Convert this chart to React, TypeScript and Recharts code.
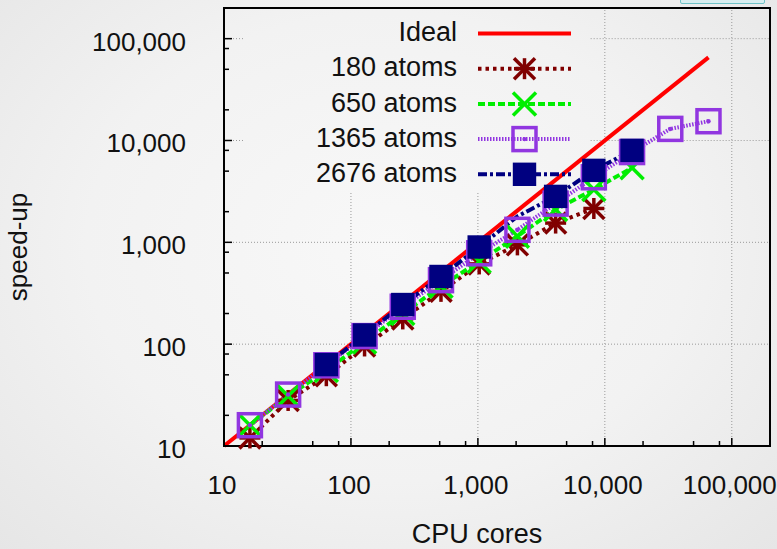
import * as R from 'recharts';
import { LineChart, Line, XAxis, YAxis, ReferenceLine, Legend } from 'recharts';

// CPU cores (x) and measured speed-up per system size (y)
const cores = [16, 32, 64, 128, 256, 512, 1024, 2048, 4096, 8192, 16384, 32768, 65536];
const idealX = [10, 65536];
const speedup180 = [12, 28, 49, 96, 177, 330, 614, 944, 1546, 2150];
const speedup650 = [16, 31, 55, 105, 200, 370, 650, 1150, 2100, 3300, 5400];
const speedup1365 = [16, 32, 62, 120, 233, 425, 780, 1327, 2400, 4350, 7700, 13000, 15460];
// 2676 atoms starts at 64 cores; the 2048 point has no marker in the figure
const cores2676 = [64, 128, 256, 512, 1024, 2048, 4096, 8192, 16384];
const speedup2676 = [63, 123, 245, 462, 900, 1800, 2825, 5090, 8000];
const noMarker2676 = [2048];

const majorTicks = [10, 100, 1000, 10000, 100000];
const minorTicks = [20, 50, 80, 200, 500, 800, 2000, 5000, 8000, 20000, 50000, 80000];
const allTicks = [...majorTicks, ...minorTicks].sort((a, b) => a - b);
const domain: [number, number] = [10, 200000];

// grid lines, gnuplot leaves them out behind the key
const gridValues = [100, 1000, 10000, 100000];
const keyLeft = 14.5;
const keyRight = 7730;
const keyBottom = 3140;

const FONT = '"Liberation Sans", Arial, sans-serif';

const toPoints = (xs: number[], ys: number[], hidden: number[] = []) =>
  ys.map((y, i) => ({ x: xs[i], y, hideDot: hidden.includes(xs[i]) }));

const idealData = idealX.map(v => ({ x: v, y: v }));
const data180 = toPoints(cores, speedup180);
const data650 = toPoints(cores, speedup650);
const data1365 = toPoints(cores, speedup1365);
const data2676 = toPoints(cores2676, speedup2676, noMarker2676);

type MarkerKind = 'none' | 'star' | 'cross' | 'openSquare' | 'square';

const SERIES = [
  { name: 'Ideal', color: '#ff0000', dash: undefined, marker: 'none' as MarkerKind, data: idealData },
  { name: '180 atoms', color: '#800000', dash: '3.5 4', marker: 'star' as MarkerKind, data: data180 },
  { name: '650 atoms', color: '#00ee00', dash: '7 3', marker: 'cross' as MarkerKind, data: data650 },
  { name: '1365 atoms', color: '#9136e0', dash: '1.5 1.5', marker: 'openSquare' as MarkerKind, data: data1365 },
  { name: '2676 atoms', color: '#000080', dash: '9 3 3 3', marker: 'square' as MarkerKind, data: data2676 },
];

const Marker = ({ kind, cx, cy, color }: { kind: MarkerKind; cx: number; cy: number; color: string }) => {
  if (kind === 'star') {
    const h = 10.5;
    return (
      <g stroke={color} strokeWidth={3.5}>
        <line x1={cx - h} y1={cy} x2={cx + h} y2={cy} />
        <line x1={cx} y1={cy - h} x2={cx} y2={cy + h} />
        <line x1={cx - h} y1={cy - h} x2={cx + h} y2={cy + h} />
        <line x1={cx - h} y1={cy + h} x2={cx + h} y2={cy - h} />
      </g>
    );
  }
  if (kind === 'cross') {
    const h = 11.5;
    return (
      <g stroke={color} strokeWidth={3.5}>
        <line x1={cx - h} y1={cy - h} x2={cx + h} y2={cy + h} />
        <line x1={cx - h} y1={cy + h} x2={cx + h} y2={cy - h} />
      </g>
    );
  }
  if (kind === 'openSquare') {
    const h = 11.5;
    return (
      <g>
        <rect x={cx - h} y={cy - h} width={2 * h} height={2 * h} fill="none" stroke={color} strokeWidth={3.5} />
        <circle cx={cx} cy={cy} r={2.2} fill={color} />
      </g>
    );
  }
  if (kind === 'square') {
    const h = 11.7;
    return <rect x={cx - h} y={cy - h} width={2 * h} height={2 * h} fill={color} />;
  }
  return null;
};

const makeDot = (kind: MarkerKind, color: string) => (props: any) => {
  const { cx, cy, index, payload } = props;
  if (kind === 'none' || payload?.hideDot || cx == null || cy == null) return <g key={`d-${index}`} />;
  return (
    <g key={`d-${index}`}>
      <Marker kind={kind} cx={cx} cy={cy} color={color} />
    </g>
  );
};

const fmt = (v: number) => v.toLocaleString('en-US');
const isMajor = (v: number) => majorTicks.includes(v);

const BottomTick = ({ x, y, payload }: any) => (
  <g>
    <line x1={x} y1={y} x2={x} y2={y - (isMajor(payload.value) ? 8 : 5)} stroke="#000" strokeWidth={1.5} />
    {isMajor(payload.value) && (
      <text x={x - 2} y={y + 48} textAnchor="middle" fontSize={26} fontFamily={FONT} fill="#111">
        {fmt(payload.value)}
      </text>
    )}
  </g>
);

const TopTick = ({ x, y, payload }: any) => (
  <line x1={x} y1={y} x2={x} y2={y + (isMajor(payload.value) ? 8 : 5)} stroke="#000" strokeWidth={1.5} />
);

const LeftTick = ({ x, y, payload }: any) => (
  <g>
    <line x1={x} y1={y} x2={x + (isMajor(payload.value) ? 8 : 5)} y2={y} stroke="#000" strokeWidth={1.5} />
    {isMajor(payload.value) && (
      <text x={x - 38} y={y + 12} textAnchor="end" fontSize={26} fontFamily={FONT} fill="#111">
        {fmt(payload.value)}
      </text>
    )}
  </g>
);

const RightTick = ({ x, y, payload }: any) => (
  <line x1={x} y1={y} x2={x - (isMajor(payload.value) ? 8 : 5)} y2={y} stroke="#000" strokeWidth={1.5} />
);

const XLabel = ({ viewBox }: any) => (
  <text x={viewBox.x + viewBox.width / 2 - 20} y={viewBox.y + 97} textAnchor="middle" fontSize={27} fontFamily={FONT} fill="#111">
    CPU cores
  </text>
);

const YLabel = ({ viewBox }: any) => {
  const x = viewBox.x + 27;
  const y = viewBox.y + viewBox.height / 2 + 20;
  return (
    <text x={x} y={y} transform={`rotate(-90, ${x}, ${y})`} textAnchor="middle" fontSize={26} fontFamily={FONT} fill="#111">
      speed-up
    </text>
  );
};

// gnuplot border: box round the plot area, taken from the chart's own layout
const usePlot: any = (R as any).usePlotArea || (R as any).useOffset || (() => null);
const Frame = () => {
  const a = usePlot();
  if (!a || a.width == null || a.height == null) return null;
  const x = a.x ?? a.left;
  const y = a.y ?? a.top;
  return <rect x={x} y={y} width={a.width} height={a.height} fill="none" stroke="#000" strokeWidth={2} />;
};

const KeyBox = () => (
  <svg width={777} height={200} style={{ display: 'block', overflow: 'visible' }}>
    {SERIES.map((s, i) => {
      const cy = 33.5 + i * 35.2;
      return (
        <g key={s.name}>
          <text x={457} y={cy + 7.7} textAnchor="end" fontSize={27} fontFamily={FONT} fill="#111">
            {s.name}
          </text>
          <line x1={478} x2={571} y1={cy} y2={cy} stroke={s.color} strokeWidth={4} strokeDasharray={s.dash} />
          <Marker kind={s.marker} cx={524.5} cy={cy} color={s.color} />
        </g>
      );
    })}
  </svg>
);

const gridSegments = () => {
  const segs: { x1: number; y1: number; x2: number; y2: number }[] = [];
  gridValues.forEach(v => {
    const top = v > keyLeft && v < keyRight ? keyBottom : domain[1];
    segs.push({ x1: v, y1: domain[0], x2: v, y2: top });
  });
  gridValues.forEach(v => {
    if (v > keyBottom) {
      segs.push({ x1: domain[0], y1: v, x2: keyLeft, y2: v });
      segs.push({ x1: keyRight, y1: v, x2: domain[1], y2: v });
    } else {
      segs.push({ x1: domain[0], y1: v, x2: domain[1], y2: v });
    }
  });
  return segs;
};

export default function App() {
  return (
    <div
      style={{
        position: 'absolute',
        left: 0,
        top: 0,
        width: 777,
        height: 549,
        overflow: 'hidden',
        background: 'radial-gradient(ellipse at 50% 45%, #f8f8f8 0%, #f2f2f2 55%, #e6e6e6 100%)',
      }}
    >
      <div
        style={{
          position: 'absolute',
          left: 680,
          top: -6,
          width: 83,
          height: 8,
          border: '1px solid #6fc3c8',
          background: '#d8eef0',
          borderRadius: 2,
        }}
      />
      <LineChart width={777} height={549} margin={{ top: 8, right: 7, bottom: 0, left: 0 }}>
        <XAxis
          dataKey="x"
          type="number"
          scale="log"
          domain={domain}
          ticks={allTicks}
          interval={0}
          tick={(p: any) => <BottomTick {...p} />}
          tickLine={false}
          tickSize={0}
          tickMargin={0}
          axisLine={{ stroke: '#000', strokeWidth: 2 }}
          height={103}
          label={XLabel}
        />
        <XAxis
          xAxisId="top"
          orientation="top"
          dataKey="x"
          type="number"
          scale="log"
          domain={domain}
          ticks={allTicks}
          interval={0}
          tick={(p: any) => <TopTick {...p} />}
          tickLine={false}
          tickSize={0}
          tickMargin={0}
          axisLine={false}
          height={0}
        />
        <YAxis
          dataKey="y"
          type="number"
          scale="log"
          domain={domain}
          ticks={allTicks}
          interval={0}
          tick={(p: any) => <LeftTick {...p} />}
          tickLine={false}
          tickSize={0}
          tickMargin={0}
          axisLine={{ stroke: '#000', strokeWidth: 2 }}
          width={224}
          label={YLabel}
        />
        <YAxis
          yAxisId="right"
          orientation="right"
          dataKey="y"
          type="number"
          scale="log"
          domain={domain}
          ticks={allTicks}
          interval={0}
          tick={(p: any) => <RightTick {...p} />}
          tickLine={false}
          tickSize={0}
          tickMargin={0}
          axisLine={false}
          width={0}
        />
        {gridSegments().map((s, i) => (
          <ReferenceLine
            key={`g-${i}`}
            segment={[{ x: s.x1, y: s.y1 }, { x: s.x2, y: s.y2 }]}
            stroke="#9a9a9a"
            strokeWidth={1}
            strokeDasharray="1 2"
          />
        ))}
        <Frame />
        {SERIES.map(s => (
          <Line
            key={s.name}
            name={s.name}
            data={s.data}
            dataKey="y"
            type="linear"
            stroke={s.color}
            strokeWidth={4}
            strokeDasharray={s.dash}
            dot={makeDot(s.marker, s.color)}
            activeDot={false}
            isAnimationActive={false}
          />
        ))}
        <Legend
          content={<KeyBox />}
          layout="horizontal"
          verticalAlign="middle"
          wrapperStyle={{ position: 'absolute', left: 0, top: 0, width: 777, height: 200, pointerEvents: 'none' }}
        />
      </LineChart>
    </div>
  );
}
